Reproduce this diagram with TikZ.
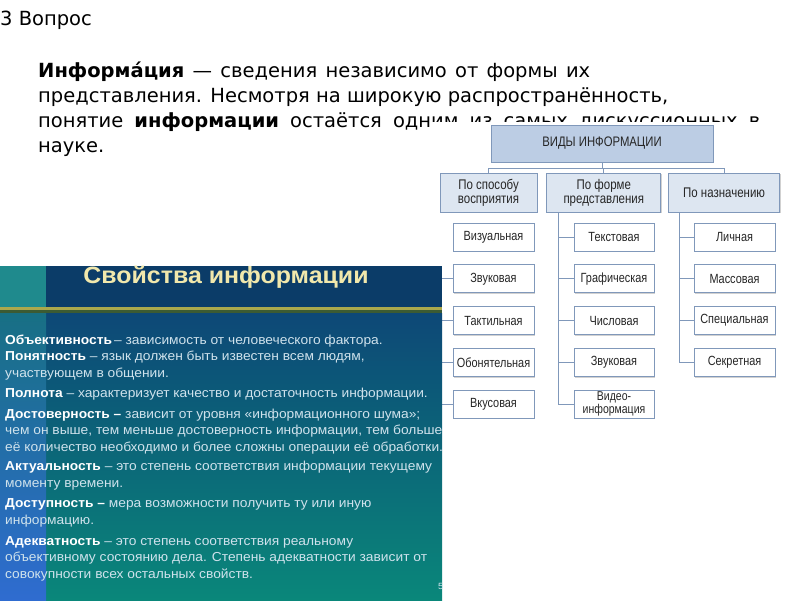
\documentclass[tikz,border=0pt]{standalone}
\usepackage{fontspec}
\setmainfont{DejaVu Sans}
\newfontfamily\narrowsf[FakeStretch=0.82]{Liberation Sans}
\newfontfamily\slidesf[FakeStretch=1.06]{Liberation Sans}
\usetikzlibrary{positioning,shadows}
\definecolor{VidLine}{HTML}{8098BA}
\definecolor{VidHead}{HTML}{BCCDE4}
\definecolor{VidGroup}{HTML}{DDE6F1}
\definecolor{PanNavy}{HTML}{0B3C68}
\definecolor{PanStrip}{HTML}{1F8A8D}
\definecolor{PanTop}{HTML}{0D4877}
\definecolor{PanMid}{HTML}{0C6A80}
\definecolor{PanBot}{HTML}{0A877A}
\definecolor{PanGold}{HTML}{ABA84C}
\definecolor{PanMoss}{HTML}{3C5B33}
\definecolor{PanTitle}{HTML}{F1E8AC}
\definecolor{PanText}{HTML}{CFE2EC}

\begin{document}
\begin{tikzpicture}[x=1pt,y=-1pt,node distance=13pt and 8pt,
  every node/.style={inner sep=0pt},
  box/.style={draw=VidLine,line width=0.8pt,align=center,text=black!85,font=\narrowsf\fontsize{13.3}{12}\selectfont,
    drop shadow={shadow xshift=1.2pt,shadow yshift=-1.2pt,fill=black,opacity=.18}},
  head/.style={box,fill=VidHead,minimum width=222pt,minimum height=37pt,font=\narrowsf\fontsize{13.8}{13}\selectfont},
  group/.style={box,fill=VidGroup,minimum height=39pt,font=\narrowsf\fontsize{14}{14}\selectfont},
  leaf/.style={box,fill=white,minimum width=81pt,minimum height=28pt},
  prop/.style={anchor=base west,align=left,text=PanText,font=\slidesf\fontsize{13}{16.5}\selectfont}]
  \useasboundingbox (0,0) rectangle (800,600);

  % slide text (base = last line)
  \node[anchor=base west,font=\fontsize{19.5}{25}\selectfont] (vopros) at (0,25) {3 Вопрос};
  \node[anchor=base west,align=left,font=\fontsize{19.5}{25}\selectfont] (defn) at (38,152)
    {\makebox[552pt][s]{\textbf{Информа́ция} — сведения независимо от формы их}\\
     представления. Несмотря на широкую распространённость,\\
     \makebox[722pt][s]{понятие \textbf{информации} остаётся одним из самых дискуссионных в}\\
     науке.};

  % types of information
  \fill[white] (432,122) rectangle (800,420);
  \node[head] (vidy) at (602,143.5) {ВИДЫ ИНФОРМАЦИИ};
  \node[group,minimum width=97pt] (g1) at (488.5,192.5) {По способу\\восприятия};
  \node[group,minimum width=114pt,right=9pt of g1] (g2) {По форме\\представления};
  \node[group,minimum width=111pt,right=7pt of g2] (g3) {По назначению};

  \node[leaf] (a1) at (493.5,237) {Визуальная};
  \node[leaf,below=of a1] (a2) {Звуковая};
  \node[leaf,below=of a2] (a3) {Тактильная};
  \node[leaf,below=of a3] (a4) {Обонятельная};
  \node[leaf,below=of a4] (a5) {Вкусовая};

  \node[leaf,minimum width=80pt] (b1) at (614,237) {Текстовая};
  \node[leaf,minimum width=80pt,below=of b1] (b2) {Графическая};
  \node[leaf,minimum width=80pt,below=of b2] (b3) {Числовая};
  \node[leaf,minimum width=80pt,below=of b3] (b4) {Звуковая};
  \node[leaf,minimum width=80pt,below=of b4,font=\narrowsf\fontsize{12.8}{11}\selectfont] (b5) {Видео-\\информация};

  \node[leaf] (c1) at (734.5,237) {Личная};
  \node[leaf,below=of c1] (c2) {Массовая};
  \node[leaf,below=of c2] (c3) {Специальная};
  \node[leaf,below=of c3] (c4) {Секретная};

  \coordinate (t1) at (436,268);
  \coordinate (t2) at ([xshift=12pt]g2.south west);
  \coordinate (t3) at ([xshift=11pt]g3.south west);
  \foreach \x in {g1,g2,g3}{\draw[VidLine,line width=0.8pt] (vidy.south) -- ++(0,5.5) -| (\x.north);}
  \foreach \x/\y in {t1/a2,t1/a3,t1/a4,t1/a5,t2/b1,t2/b2,t2/b3,t2/b4,t2/b5,t3/c1,t3/c2,t3/c3,t3/c4}{\draw[VidLine,line width=0.8pt] (\x) |- (\y.west);}

  % properties panel
  \shade[top color=PanTop,middle color=PanMid,bottom color=PanBot] (46,313) rectangle (442,600);
  \shade[top color=PanStrip!60!PanTop,bottom color={rgb,255:red,47;green,108;blue,208}] (0,313) rectangle (46,600);
  \fill[PanNavy] (46,266) rectangle (442,307);
  \fill[PanStrip] (0,266) rectangle (46,307);
  \fill[PanGold] (0,307) rectangle (442,310);
  \fill[PanMoss] (0,310) rectangle (442,313);
  \node[anchor=base,text=PanTitle,font=\slidesf\bfseries\fontsize{23.5}{24}\selectfont] (svoistva) at (226,283) {Свойства информации};

  \node[prop] (objekt) at (5,344) {\textbf{\color{white}Объективность}\,– зависимость от человеческого фактора.};
  \node[prop] (ponyat) at (5,377) {\textbf{\color{white}Понятность} – язык должен быть известен всем людям,\\участвующем в общении.};
  \node[prop] (polnota) at (5,397) {\textbf{\color{white}Полнота} – характеризует качество и достаточность информации.};
  \node[prop] (dostov) at (5,451) {\textbf{\color{white}Достоверность –} зависит от уровня «информационного шума»;\\чем он выше, тем меньше достоверность информации, тем больше\\её количество необходимо и более сложны операции её обработки.};
  \node[prop] (aktual) at (5,487) {\textbf{\color{white}Актуальность} – это степень соответствия информации текущему\\моменту времени.};
  \node[prop] (dostup) at (5,524) {\textbf{\color{white}Доступность –} мера возможности получить ту или иную\\информацию.};
  \node[prop] (adekv) at (5,578) {\textbf{\color{white}Адекватность} – это степень соответствия реальному\\объективному состоянию дела. Степень адекватности зависит от\\совокупности всех остальных свойств.};
  \begin{scope}
    \clip (0,266) rectangle (442,600);
    \node[anchor=base west,text=PanText,font=\slidesf\fontsize{9}{9}\selectfont] (slidenum) at (438,589) {5};
  \end{scope}
\end{tikzpicture}
\end{document}
